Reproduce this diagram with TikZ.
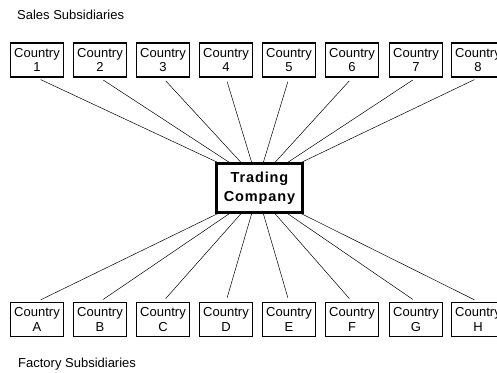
\documentclass[tikz,border=0pt]{standalone}
\usepackage{fontspec}
\setmainfont{Liberation Sans}
\newfontfamily\tradefont[LetterSpace=6]{Liberation Sans}
\begin{document}
\begin{tikzpicture}[x=1pt,y=-1pt,
  ctry/.style={draw=black,line width=1.8pt,minimum width=53pt,minimum height=34pt,
    inner sep=0pt,align=center,font=\fontsize{13}{14.5}\selectfont},
  trade/.style={draw=black,line width=2.8pt,minimum width=86pt,minimum height=49pt,
    inner sep=0pt,align=center,font=\tradefont\bfseries\fontsize{14.5}{19}\selectfont},
  link/.style={draw=black,line width=0.5pt,shorten >=4pt},
  titletext/.style={anchor=west,inner sep=0pt,font=\fontsize{13}{14}\selectfont}]
\useasboundingbox (0,0) rectangle (497,372);
\node[titletext] (sales) at (17,15) {Sales Subsidiaries};
\node[titletext] (factory) at (18,364) {Factory Subsidiaries};
\node[trade] (tc) at (259.5,188) {Trading\\Company};
% top row
\foreach \i/\x in {1/37,2/100,3/163,4/226,5/289,6/352,7/416,8/478}{
  \node[ctry] (c\i) at (\x,60) {Country\\\i};
}
% bottom row
\foreach \i/\l/\x in {1/A/37,2/B/100,3/C/163,4/D/226,5/E/289,6/F/352,7/G/416,8/H/478}{
  \node[ctry] (f\i) at (\x,319.5) {Country\\\l};
}
% attachment points on the trading company box
\foreach \i/\x in {1/220,2/231,3/242,4/252,5/263,6/274,7/286,8/299}{
  \coordinate (t\i) at (\x,163.5);
  \coordinate (b\i) at (\x,212.5);
}
\foreach \i in {1,...,8}{
  \draw[link] (t\i) -- (c\i.south);
  \draw[link] (b\i) -- (f\i.north);
}
\end{tikzpicture}
\end{document}
